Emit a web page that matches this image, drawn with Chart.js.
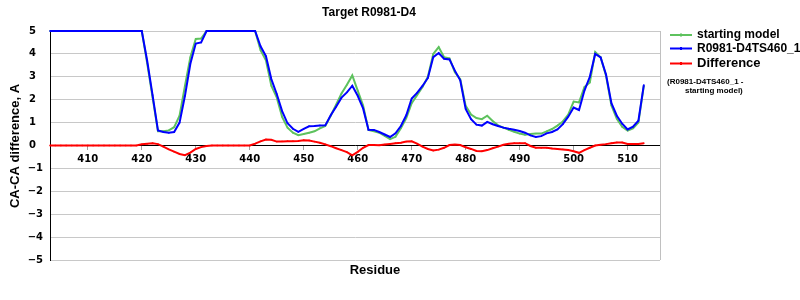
<!DOCTYPE html>
<html>
<head>
<meta charset="utf-8">
<title>Target R0981-D4</title>
<script src="https://cdn.jsdelivr.net/npm/chart.js@4.4.1/dist/chart.umd.min.js"></script>
<style>
  html, body { margin: 0; padding: 0; background: #fff; }
  canvas { display: block; }
</style>
</head>
<body>
<canvas id="caChart" width="800" height="300"></canvas>
<script>
// residue numbers (x)
const residues = [
  403, 404, 405, 406, 407, 408, 409, 410, 411, 412,
  413, 414, 415, 416, 417, 418, 419, 420, 421, 422,
  423, 424, 425, 426, 427, 428, 429, 430, 431, 432,
  433, 434, 435, 436, 437, 438, 439, 440, 441, 442,
  443, 444, 445, 446, 447, 448, 449, 450, 451, 452,
  453, 454, 455, 456, 457, 458, 459, 460, 461, 462,
  463, 464, 465, 466, 467, 468, 469, 470, 471, 472,
  473, 474, 475, 476, 477, 478, 479, 480, 481, 482,
  483, 484, 485, 486, 487, 488, 489, 490, 491, 492,
  493, 494, 495, 496, 497, 498, 499, 500, 501, 502,
  503, 504, 505, 506, 507, 508, 509, 510, 511, 512,
  513
];

// green: starting model
const startingModel = [
  5, 5, 5, 5, 5, 5, 5, 5, 5, 5,
  5, 5, 5, 5, 5, 5, 5, 5, 3.6, 2.1,
  0.62, 0.62, 0.66, 0.8, 1.3, 2.6, 3.85, 4.65, 4.67, 5,
  5, 5, 5, 5, 5, 5, 5, 5, 5, 4.16,
  3.72, 2.61, 2.1, 1.25, 0.78, 0.56, 0.45, 0.5, 0.56, 0.62,
  0.75, 0.85, 1.3, 1.78, 2.27, 2.65, 3.06, 2.4, 1.75, 0.68,
  0.62, 0.56, 0.42, 0.28, 0.38, 0.75, 1.2, 1.85, 2.2, 2.55,
  3.0, 4.0, 4.3, 3.85, 3.8, 3.2, 2.9, 1.73, 1.35, 1.2,
  1.15, 1.3, 1.07, 0.88, 0.78, 0.68, 0.6, 0.52, 0.47, 0.5,
  0.52, 0.52, 0.62, 0.72, 0.87, 1.05, 1.35, 1.92, 1.88, 2.55,
  2.75, 4.08, 3.85, 3.05, 1.75, 1.17, 0.82, 0.65, 0.75, 1.0,
  2.6
];

// blue: R0981-D4TS460_1
const modelTS460 = [
  5, 5, 5, 5, 5, 5, 5, 5, 5, 5,
  5, 5, 5, 5, 5, 5, 5, 5, 3.7, 2.2,
  0.66, 0.59, 0.56, 0.59, 1.0, 2.17, 3.57, 4.45, 4.5, 5,
  5, 5, 5, 5, 5, 5, 5, 5, 5, 4.33,
  3.9, 2.9, 2.25, 1.5, 0.97, 0.73, 0.6, 0.73, 0.84, 0.85,
  0.87, 0.88, 1.32, 1.69, 2.09, 2.32, 2.61, 2.17, 1.62, 0.69,
  0.68, 0.59, 0.48, 0.37, 0.53, 0.85, 1.32, 2.05, 2.3, 2.6,
  2.95, 3.86, 4.04, 3.79, 3.76, 3.27, 2.85, 1.6, 1.15, 0.91,
  0.87, 1.03, 0.93, 0.85, 0.78, 0.73, 0.69, 0.63, 0.56, 0.44,
  0.37, 0.41, 0.53, 0.59, 0.7, 0.93, 1.26, 1.66, 1.55, 2.4,
  3.0, 4.0, 3.85, 3.1, 1.85, 1.3, 0.95, 0.7, 0.82, 1.08,
  2.64
];

// red: difference (R0981-D4TS460_1 - starting model)
const difference = [
  0, 0, 0, 0, 0, 0, 0, 0, 0, 0,
  0, 0, 0, 0, 0, 0, 0, 0.05, 0.08, 0.1,
  0.06, -0.05, -0.17, -0.27, -0.37, -0.42, -0.31, -0.15, -0.07, -0.02,
  0, 0, 0, 0, 0, 0, 0, 0, 0.08, 0.18,
  0.26, 0.25, 0.17, 0.18, 0.19, 0.19, 0.2, 0.23, 0.22, 0.17,
  0.12, 0.05, -0.03, -0.12, -0.2, -0.29, -0.43, -0.28, -0.1, 0.02,
  0.02, 0.01, 0.04, 0.07, 0.1, 0.12, 0.17, 0.18, 0.08, -0.05,
  -0.15, -0.22, -0.18, -0.1, 0.02, 0.04, 0.02, -0.08, -0.15, -0.24,
  -0.25, -0.2, -0.12, -0.05, 0.03, 0.08, 0.1, 0.1, 0.1, -0.02,
  -0.1, -0.1, -0.1, -0.13, -0.15, -0.17, -0.2, -0.25, -0.32, -0.2,
  -0.1, 0, 0.03, 0.06, 0.1, 0.13, 0.13, 0.07, 0.07, 0.07,
  0.1
];

const xTicks = [410, 420, 430, 440, 450, 460, 470, 480, 490, 500, 510];
const xRange = [403, 516];
const yRange = [-5, 5];

const chartTitle = "Target R0981-D4";
const xTitle = "Residue";
const yTitle = "CA-CA difference, A";
const diffNote = ["(R0981-D4TS460_1 -", "starting model)"];

const toPoints = (vals) => vals.map((v, i) => ({ x: residues[i], y: v }));

const SANS = '"Liberation Sans", Arial, sans-serif';
const TICKFONT = { family: '"DejaVu Sans", Verdana, sans-serif', size: 10, weight: "bold" };

// titles, legend and the right frame
const chrome = {
  id: "chrome",
  afterDraw(chart) {
    const { ctx, chartArea: a } = chart;
    ctx.save();

    // right frame line
    ctx.strokeStyle = "#c0c0c0";
    ctx.lineWidth = 1;
    const rx = Math.round(a.right) + 0.5;
    ctx.beginPath();
    ctx.moveTo(rx, a.top);
    ctx.lineTo(rx, a.bottom);
    ctx.stroke();

    ctx.fillStyle = "#000";
    ctx.textBaseline = "middle";

    // chart title
    ctx.textAlign = "center";
    ctx.font = "bold 12px " + SANS;
    ctx.fillText(chartTitle, 369, 13);

    // x title
    ctx.font = "bold 13px " + SANS;
    ctx.fillText(xTitle, 375, 270);

    // y title
    ctx.save();
    ctx.translate(15, 146);
    ctx.rotate(-Math.PI / 2);
    ctx.fillText(yTitle, 0, 0);
    ctx.restore();

    // legend
    const rows = [35, 48.5, 63.5];
    const fonts = ["bold 12px " + SANS, "bold 12px " + SANS, "bold 13px " + SANS];
    ctx.textAlign = "left";
    chart.data.datasets.forEach((ds, i) => {
      const y = rows[i];
      ctx.strokeStyle = ds.borderColor;
      ctx.lineWidth = 2;
      ctx.beginPath();
      ctx.moveTo(670, y);
      ctx.lineTo(692, y);
      ctx.stroke();
      ctx.fillStyle = ds.borderColor;
      ctx.fillRect(680, y - 1.5, 2, 3);
      ctx.fillStyle = "#000";
      ctx.font = fonts[i];
      ctx.fillText(ds.label, 697, y);
    });
    ctx.font = "bold 8px " + SANS;
    ctx.fillText(diffNote[0], 667, 82);
    ctx.fillText(diffNote[1], 685, 91);

    ctx.restore();
  }
};

function lineSet(label, vals, color, order) {
  return {
    label: label,
    data: toPoints(vals),
    borderColor: color,
    backgroundColor: color,
    borderWidth: 2,
    pointRadius: 1,
    pointStyle: "rect",
    pointBorderWidth: 0,
    pointBackgroundColor: color,
    tension: 0,
    clip: 4,
    order: order
  };
}

new Chart(document.getElementById("caChart"), {
  type: "line",
  data: {
    datasets: [
      lineSet("starting model", startingModel, "#5ec25e", 1),
      lineSet("R0981-D4TS460_1", modelTS460, "#0000ff", 0),
      lineSet("Difference", difference, "#ff0000", 2)
    ]
  },
  options: {
    responsive: false,
    animation: false,
    devicePixelRatio: 1,
    layout: { padding: { top: 31, right: 140, bottom: 40, left: 0 } },
    plugins: {
      legend: { display: false },
      tooltip: { enabled: false },
      title: { display: false }
    },
    scales: {
      x: {
        type: "linear",
        min: xRange[0],
        max: xRange[1],
        position: { y: 0 },
        afterBuildTicks: (s) => { s.ticks = xTicks.map((v) => ({ value: v })); },
        grid: { drawOnChartArea: false, drawTicks: true, tickLength: 4, color: "#a0a0a0" },
        border: { color: "#000", width: 1 },
        ticks: { font: TICKFONT, color: "#000", padding: 4, maxRotation: 0 }
      },
      y: {
        min: yRange[0],
        max: yRange[1],
        afterFit: (s) => { s.width = 50; },
        grid: { color: "#c8c8c8", drawTicks: false },
        border: { color: "#000", width: 1 },
        ticks: {
          stepSize: 1,
          font: TICKFONT,
          color: "#000",
          padding: 7,
          callback: (v) => (v < 0 ? "\u2212" + Math.abs(v) : v + "\u2007")
        }
      }
    }
  },
  plugins: [chrome]
});
</script>
</body>
</html>
